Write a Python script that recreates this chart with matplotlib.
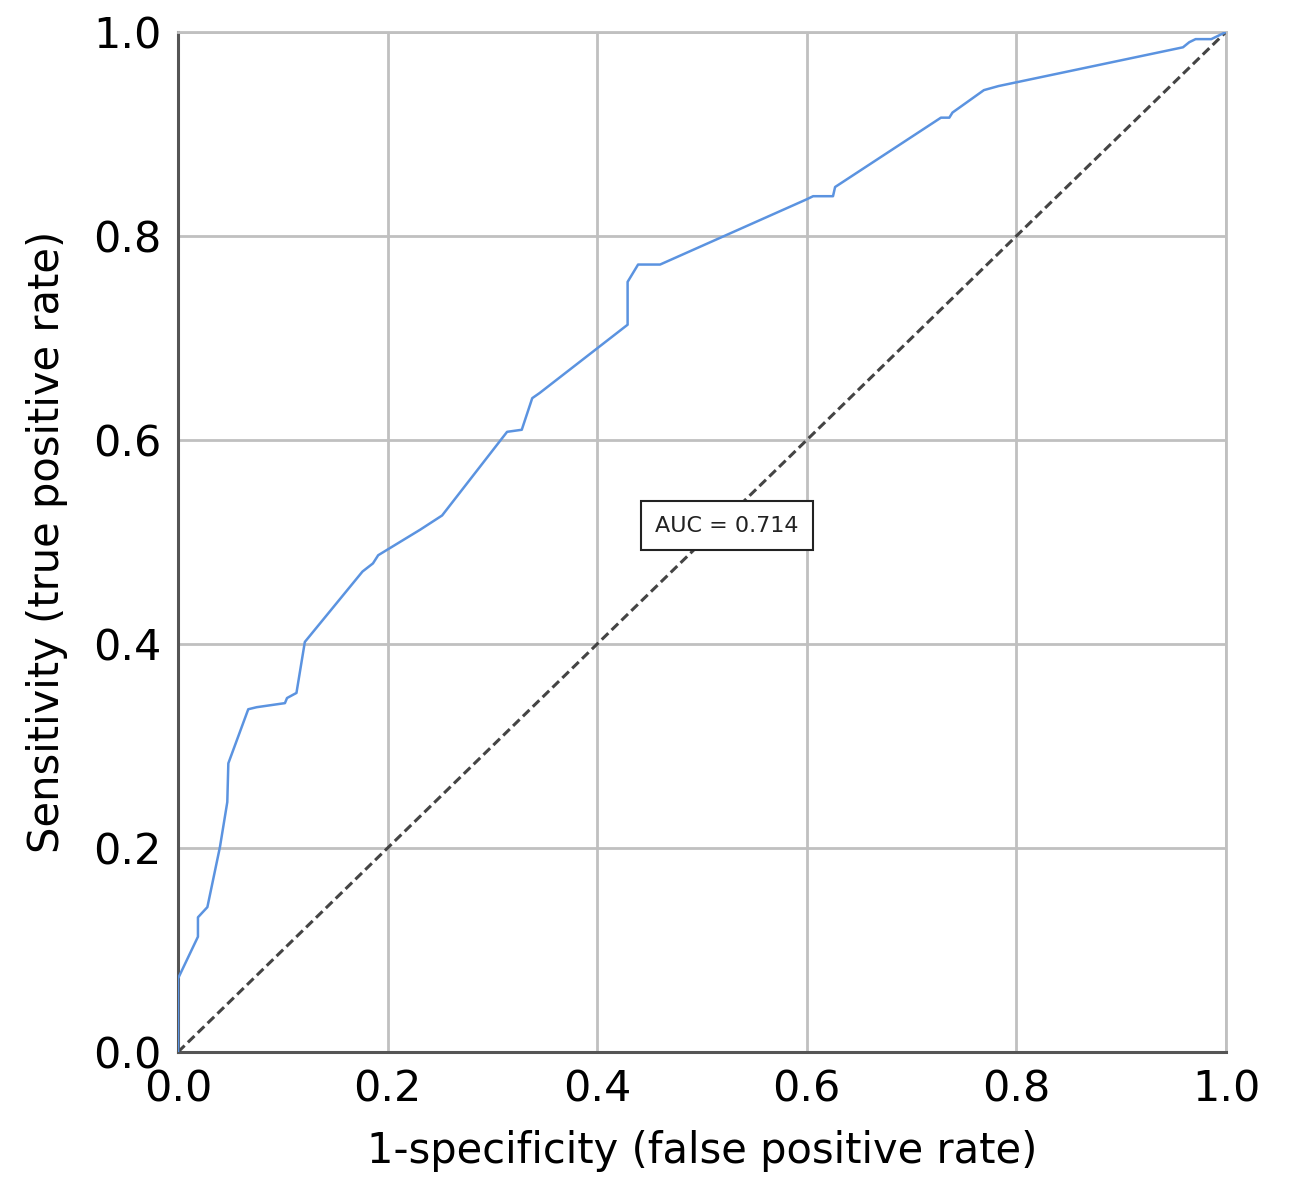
import matplotlib
matplotlib.use("Agg")
from matplotlib import pyplot as plt

# ROC curve points (false positive rate, true positive rate)
fpr = [0.0, 0.0, 0.019, 0.019, 0.028, 0.040, 0.047, 0.048, 0.067, 0.075,
       0.102, 0.104, 0.113, 0.121, 0.176, 0.186, 0.191, 0.231, 0.252, 0.314,
       0.328, 0.338, 0.345, 0.429, 0.429, 0.439, 0.460, 0.600, 0.606, 0.625,
       0.627, 0.728, 0.736, 0.739, 0.769, 0.783, 0.959, 0.965, 0.971, 0.986,
       1.0]
tpr = [0.0, 0.072, 0.113, 0.132, 0.142, 0.201, 0.245, 0.283, 0.336, 0.338,
       0.342, 0.347, 0.352, 0.402, 0.471, 0.479, 0.487, 0.512, 0.526, 0.608,
       0.610, 0.641, 0.646, 0.713, 0.755, 0.772, 0.772, 0.836, 0.839, 0.839,
       0.848, 0.916, 0.916, 0.921, 0.943, 0.947, 0.985, 0.990, 0.993, 0.993,
       1.0]
ref_line = [0.0, 1.0]
ticks = [0.0, 0.2, 0.4, 0.6, 0.8, 1.0]
auc_text = "AUC = 0.714"

plt.rcParams["font.family"] = ["DejaVu Sans"]

fig = plt.figure(figsize=(12.92, 11.98), dpi=100)
ax = fig.add_axes([0.1378, 0.1219, 0.8111, 0.8514])

ax.plot(ref_line, ref_line, color="#444444", lw=2.2, ls=(0, (3, 1.5)), zorder=3)
ax.plot(fpr, tpr, color="#5b93e0", lw=1.8, zorder=4)

ax.set_xlim(0, 1)
ax.set_ylim(0, 1)
ax.set_xticks(ticks)
ax.set_yticks(ticks)
ax.set_xticklabels([f"{t:.1f}" for t in ticks])
ax.set_yticklabels([f"{t:.1f}" for t in ticks])
ax.tick_params(length=0, labelsize=31, pad=12)
ax.grid(True, color="#c0c0c0", lw=2)
ax.set_axisbelow(True)

for side in ["top", "right"]:
    ax.spines[side].set_color("#c0c0c0")
    ax.spines[side].set_linewidth(2)
for side in ["left", "bottom"]:
    ax.spines[side].set_color("#555555")
    ax.spines[side].set_linewidth(2.2)

ax.set_xlabel("1-specificity (false positive rate)", fontsize=30, labelpad=14)
ax.set_ylabel("Sensitivity (true positive rate)", fontsize=30, labelpad=18)

ax.text(0.524, 0.516, auc_text, fontsize=16, ha="center", va="center",
        color="#222222", zorder=5,
        bbox=dict(boxstyle="square,pad=0.65", facecolor="white",
                  edgecolor="#222222", lw=1.5))

fig.savefig("out.png", dpi=100)
